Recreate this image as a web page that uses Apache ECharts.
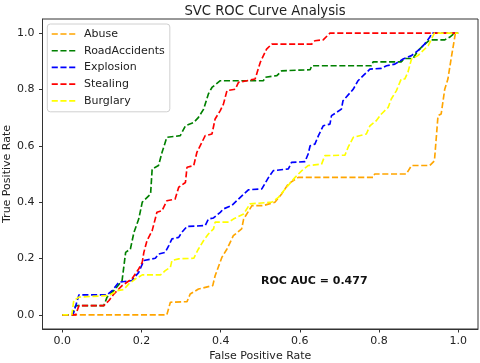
<!DOCTYPE html>
<html>
<head>
<meta charset="utf-8">
<script src="https://cdn.jsdelivr.net/npm/echarts@6/dist/echarts.min.js"></script>
<style>
html,body{margin:0;padding:0;background:#fff;}
#chart{width:480px;height:363px;}
</style>
</head>
<body>
<div id="chart"></div>
<script>
// ---- data (FPR, TPR) ----
const seriesNames = ["Abuse", "RoadAccidents", "Explosion", "Stealing", "Burglary"];
const tickValues = [0, 0.2, 0.4, 0.6, 0.8, 1.0];
const tickLabels = ["0.0", "0.2", "0.4", "0.6", "0.8", "1.0"];
const aucText = "ROC AUC = 0.477";

const abuse = [
  [0,0],[0.264,0],[0.273,0.045],[0.315,0.047],[0.323,0.074],[0.344,0.092],[0.380,0.104],
  [0.386,0.139],[0.403,0.204],[0.416,0.234],[0.432,0.281],[0.453,0.305],[0.458,0.340],
  [0.479,0.388],[0.508,0.388],[0.537,0.400],[0.554,0.429],[0.571,0.465],[0.596,0.488],
  [0.785,0.488],[0.789,0.500],[0.869,0.500],[0.882,0.530],[0.928,0.530],[0.940,0.547],
  [0.949,0.707],[0.957,0.713],[0.966,0.801],[0.974,0.837],[0.982,0.908],[0.993,1.0],[1,1]
];
const roadAccidents = [
  [0,0],[0.025,0],[0.034,0.033],[0.105,0.033],[0.113,0.063],[0.130,0.086],[0.151,0.122],
  [0.160,0.222],[0.172,0.234],[0.181,0.293],[0.193,0.340],[0.202,0.400],[0.223,0.429],
  [0.227,0.518],[0.243,0.530],[0.252,0.577],[0.264,0.630],[0.298,0.636],[0.311,0.671],
  [0.332,0.683],[0.344,0.701],[0.357,0.730],[0.369,0.784],[0.378,0.807],[0.399,0.831],
  [0.508,0.831],[0.512,0.843],[0.542,0.849],[0.554,0.866],[0.626,0.870],[0.630,0.884],
  [0.781,0.884],[0.785,0.898],[0.856,0.898],[0.865,0.910],[0.886,0.910],[0.898,0.937],
  [0.911,0.955],[0.928,0.976],[0.966,0.976],[0.978,0.985],[0.991,1.0],[1,1]
];
const explosion = [
  [0,0],[0.027,0],[0.042,0.071],[0.113,0.071],[0.126,0.086],[0.143,0.116],[0.176,0.122],
  [0.193,0.151],[0.206,0.193],[0.235,0.201],[0.243,0.216],[0.260,0.222],[0.269,0.246],
  [0.277,0.270],[0.294,0.275],[0.302,0.293],[0.315,0.314],[0.361,0.317],[0.369,0.340],
  [0.382,0.344],[0.399,0.364],[0.407,0.376],[0.428,0.388],[0.445,0.411],[0.470,0.444],
  [0.504,0.447],[0.521,0.488],[0.533,0.512],[0.571,0.518],[0.579,0.541],[0.613,0.544],
  [0.621,0.571],[0.626,0.600],[0.638,0.606],[0.647,0.636],[0.659,0.671],[0.676,0.677],
  [0.680,0.707],[0.705,0.730],[0.709,0.760],[0.735,0.801],[0.747,0.831],[0.760,0.849],
  [0.777,0.872],[0.806,0.875],[0.819,0.884],[0.840,0.890],[0.861,0.908],[0.882,0.920],
  [0.903,0.943],[0.915,0.961],[0.928,0.985],[0.934,1.0],[1,1]
];
const stealing = [
  [0,0],[0.034,0],[0.042,0.033],[0.105,0.033],[0.118,0.051],[0.130,0.074],[0.151,0.104],
  [0.176,0.128],[0.193,0.163],[0.202,0.187],[0.206,0.222],[0.214,0.264],[0.227,0.299],
  [0.239,0.364],[0.252,0.370],[0.264,0.405],[0.285,0.411],[0.294,0.453],[0.311,0.470],
  [0.315,0.524],[0.332,0.530],[0.340,0.577],[0.361,0.636],[0.378,0.642],[0.386,0.695],
  [0.399,0.725],[0.407,0.748],[0.416,0.796],[0.437,0.801],[0.445,0.825],[0.487,0.837],
  [0.491,0.855],[0.500,0.896],[0.508,0.920],[0.516,0.943],[0.529,0.961],[0.630,0.961],
  [0.638,0.973],[0.659,0.976],[0.676,1.0],[1,1]
];
const burglary = [
  [0,0],[0.024,0],[0.029,0.051],[0.042,0.063],[0.118,0.069],[0.139,0.086],[0.155,0.090],
  [0.168,0.110],[0.185,0.128],[0.202,0.142],[0.248,0.142],[0.260,0.157],[0.273,0.169],
  [0.277,0.193],[0.294,0.199],[0.332,0.201],[0.344,0.234],[0.357,0.264],[0.369,0.287],
  [0.382,0.305],[0.386,0.329],[0.420,0.329],[0.432,0.340],[0.458,0.358],[0.474,0.394],
  [0.529,0.400],[0.546,0.417],[0.563,0.447],[0.588,0.488],[0.605,0.512],[0.621,0.530],
  [0.655,0.535],[0.663,0.565],[0.714,0.567],[0.722,0.595],[0.735,0.630],[0.768,0.642],
  [0.777,0.671],[0.793,0.689],[0.806,0.713],[0.823,0.736],[0.831,0.766],[0.844,0.796],
  [0.856,0.837],[0.865,0.837],[0.873,0.861],[0.882,0.908],[0.898,0.920],[0.924,0.955],
  [0.940,1.0],[1,1]
];

const seriesData = [abuse, roadAccidents, explosion, stealing, burglary];
const colors = ["#FFA500", "#008000", "#0000FF", "#FF0000", "#FFFF00"];

const FONT = "DejaVu Sans";
const chart = echarts.init(document.getElementById("chart"), null, {renderer: "canvas"});

function fmt(v) {
  const i = tickValues.findIndex(t => Math.abs(t - v) < 1e-9);
  return i >= 0 ? tickLabels[i] : "";
}

const axisCommon = {
  type: "value",
  min: -0.05,
  max: 1.05,
  splitLine: {show: false},
  axisLine: {show: true, onZero: false, lineStyle: {color: "#333", width: 1}},
  axisTick: {show: true, length: 3.5, customValues: tickValues, lineStyle: {color: "#333"}},
  axisLabel: {customValues: tickValues, formatter: fmt, color: "#222", fontSize: 11, fontFamily: FONT},
  nameTextStyle: {color: "#222", fontSize: 11, fontFamily: FONT},
  nameMoveOverlap: false
};

const DASH_ICON = "path://M0,0h6.1v1.65h-6.1z M8.74,0h6.1v1.65h-6.1z M17.48,0h6.1v1.65h-6.1z";

chart.setOption({
  animation: false,
  backgroundColor: "#fff",
  title: {
    text: "SVC ROC Curve Analysis",
    left: 260, top: 0, textAlign: "center",
    textStyle: {fontFamily: FONT, fontSize: 13.2, fontWeight: "normal", color: "#222"}
  },
  grid: {left: 42.5, right: 2, top: 19, bottom: 34, outerBoundsMode: "none", containLabel: false,
         show: true, borderColor: "#333", borderWidth: 1, backgroundColor: "transparent"},
  xAxis: Object.assign({}, axisCommon, {
    name: "False Positive Rate", nameLocation: "middle", nameGap: 22,
    axisLabel: Object.assign({}, axisCommon.axisLabel, {margin: 6.5})
  }),
  yAxis: Object.assign({}, axisCommon, {
    name: "True Positive Rate", nameLocation: "middle", nameGap: 30,
    axisLabel: Object.assign({}, axisCommon.axisLabel, {margin: 8})
  }),
  legend: {
    orient: "vertical",
    left: 47.3, top: 24,
    padding: [4, 5, 5, 4.4],
    icon: DASH_ICON,
    itemWidth: 23.6, itemHeight: 1.65, itemGap: 4.7,
    backgroundColor: "rgba(255,255,255,0.8)",
    borderColor: "#d0d0d0", borderWidth: 1, borderRadius: 3,
    textStyle: {fontFamily: FONT, fontSize: 11, color: "#222", lineHeight: 12, padding: [0, 0, 0, 3.7]},
    data: seriesNames
  },
  graphic: [{
    type: "text", left: 261, top: 276,
    style: {text: aucText, font: "bold 11px 'DejaVu Sans'", fill: "#111"}
  }],
  series: seriesNames.map((name, i) => ({
    name: name,
    type: "line",
    data: seriesData[i],
    showSymbol: false,
    symbol: "none",
    color: colors[i],
    lineStyle: {color: colors[i], width: 1.65, type: [6.1, 2.64]},
    emphasis: {disabled: true},
    z: 2 + i
  }))
});
</script>
</body>
</html>
